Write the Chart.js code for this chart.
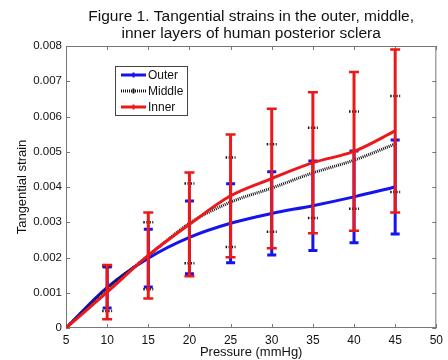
<!DOCTYPE html>
<html>
<head>
<meta charset="utf-8">
<script src="https://cdn.jsdelivr.net/npm/chart.js@4.4.1/dist/chart.umd.min.js"></script>
<style>
  html, body { margin: 0; padding: 0; background: #fff; }
  #wrap { width: 448px; height: 360px; }
</style>
</head>
<body>
<div id="wrap"><canvas id="chart"></canvas></div>
<script>
// pressure steps (mmHg)
const pressure = [5, 10, 15, 20, 25, 30, 35, 40, 45];

// mean tangential strain and +/- error per layer
const outerMean  = [0, 0.00115, 0.00198, 0.00257, 0.00297, 0.00325, 0.00347, 0.00372, 0.00400];
const outerErr   = [0, 0.00058, 0.00082, 0.00103, 0.00112, 0.00118, 0.00127, 0.00130, 0.00133];
const middleMean = [0, 0.00112, 0.00205, 0.00297, 0.00357, 0.00397, 0.00440, 0.00476, 0.00522];
const middleErr  = [0, 0.00064, 0.00095, 0.00113, 0.00127, 0.00124, 0.00128, 0.00138, 0.00136];
const innerMean  = [0, 0.00102, 0.00206, 0.00294, 0.00375, 0.00424, 0.00469, 0.00501, 0.00559];
const innerErr   = [0, 0.00077, 0.00122, 0.00147, 0.00174, 0.00198, 0.00200, 0.00225, 0.00231];

const xTicks = [5, 10, 15, 20, 25, 30, 35, 40, 45, 50];
const yTicks = [0, 0.001, 0.002, 0.003, 0.004, 0.005, 0.006, 0.007, 0.008];

const titleLines = ['Figure 1. Tangential strains in the outer, middle,', 'inner layers of human posterior sclera'];
const seriesNames = ['Outer', 'Middle', 'Inner'];

const FONT = '"Liberation Sans", Arial, sans-serif';
const BLUE = 'rgb(20,20,235)';
const RED = 'rgb(235,25,25)';
const BLACK = 'rgb(20,20,20)';

function pts(means) {
  return pressure.map((p, i) => ({ x: p, y: means[i] }));
}

// vertical error bars with caps, drawn right after each dataset's line
const errorBars = {
  id: 'errorBars',
  afterDatasetDraw(chart, args) {
    const ds = chart.data.datasets[args.index];
    const errs = ds.errors;
    if (!errs) return;
    const x = chart.scales.x, y = chart.scales.y;
    const ctx = chart.ctx;
    ctx.save();
    ctx.strokeStyle = ds.borderColor;
    ctx.setLineDash(ds.barDash || []);
    ds.data.forEach((pt, i) => {
      const e = errs[i];
      if (!e) return;
      const px = x.getPixelForValue(pt.x);
      const top = y.getPixelForValue(pt.y + e);
      const bot = y.getPixelForValue(pt.y - e);
      ctx.lineWidth = ds.barWidth;
      ctx.beginPath();
      ctx.moveTo(px, top);
      ctx.lineTo(px, bot);
      ctx.stroke();
      ctx.lineWidth = ds.capWidth;
      ctx.beginPath();
      ctx.moveTo(px - ds.capHalf, top);
      ctx.lineTo(px + ds.capHalf, top);
      ctx.moveTo(px - ds.capHalf, bot);
      ctx.lineTo(px + ds.capHalf, bot);
      ctx.stroke();
    });
    ctx.restore();
  }
};

// plot box with inward ticks on all four sides, title and legend
const frame = {
  id: 'frame',
  beforeDatasetsDraw(chart) {
    const { ctx, chartArea: a } = chart;
    const x = chart.scales.x, y = chart.scales.y;
    ctx.save();
    ctx.strokeStyle = '#777';
    ctx.lineWidth = 1;
    ctx.strokeRect(a.left + 0.5, a.top + 0.5, a.right - a.left - 1, a.bottom - a.top - 1);
    ctx.beginPath();
    xTicks.forEach(v => {
      const px = Math.round(x.getPixelForValue(v)) + 0.5;
      ctx.moveTo(px, a.bottom); ctx.lineTo(px, a.bottom - 4);
      ctx.moveTo(px, a.top); ctx.lineTo(px, a.top + 4);
    });
    yTicks.forEach(v => {
      const py = Math.round(y.getPixelForValue(v)) + 0.5;
      ctx.moveTo(a.left, py); ctx.lineTo(a.left + 4, py);
      ctx.moveTo(a.right, py); ctx.lineTo(a.right - 4, py);
    });
    ctx.stroke();
    ctx.restore();
  },
  afterDraw(chart) {
    const { ctx, chartArea: a } = chart;
    ctx.save();
    ctx.fillStyle = '#111';
    ctx.font = '15.5px ' + FONT;
    ctx.textAlign = 'center';
    ctx.textBaseline = 'alphabetic';
    const cx = (a.left + a.right) / 2;
    ctx.fillText(titleLines[0], cx, 21);
    ctx.fillText(titleLines[1], cx, 38);

    // legend
    const lx = 115.5, ly = 66.5, lw = 72, lh = 49;
    ctx.fillStyle = '#fff';
    ctx.fillRect(lx, ly, lw, lh);
    ctx.strokeStyle = '#444';
    ctx.lineWidth = 1;
    ctx.strokeRect(lx, ly, lw, lh);
    const rows = [75, 91, 107];
    const sets = [chart.data.datasets[2], chart.data.datasets[1], chart.data.datasets[0]];
    ctx.font = '12px ' + FONT;
    ctx.textAlign = 'left';
    ctx.textBaseline = 'middle';
    rows.forEach((ry, i) => {
      const ds = sets[i];
      ctx.strokeStyle = ds.borderColor;
      ctx.lineWidth = ds.borderWidth;
      ctx.setLineDash(ds.borderDash || []);
      ctx.beginPath();
      ctx.moveTo(121, ry); ctx.lineTo(146, ry);
      ctx.stroke();
      ctx.setLineDash([]);
      // small error-bar marker in the middle of the sample
      ctx.lineWidth = 2;
      ctx.beginPath();
      ctx.moveTo(133.5, ry - 2.5); ctx.lineTo(133.5, ry + 2.5);
      ctx.stroke();
      ctx.fillStyle = '#111';
      ctx.fillText(seriesNames[i], 148, ry + 1);
    });
    ctx.restore();
  }
};

const common = {
  fill: false,
  pointRadius: 0,
  pointHoverRadius: 0,
  cubicInterpolationMode: 'monotone',
  tension: 0.4
};

new Chart(document.getElementById('chart'), {
  type: 'line',
  data: {
    datasets: [
      Object.assign({}, common, {
        label: seriesNames[2], data: pts(innerMean), errors: innerErr,
        borderColor: RED, borderWidth: 3, order: 1,
        barWidth: 3, capWidth: 2.5, capHalf: 5
      }),
      Object.assign({}, common, {
        label: seriesNames[1], data: pts(middleMean), errors: middleErr,
        borderColor: BLACK, borderWidth: 3, borderDash: [1, 1], order: 2,
        barWidth: 2, capWidth: 2.5, capHalf: 5, barDash: [1.5, 1.5]
      }),
      Object.assign({}, common, {
        label: seriesNames[0], data: pts(outerMean), errors: outerErr,
        borderColor: BLUE, borderWidth: 3, order: 3,
        barWidth: 3, capWidth: 3, capHalf: 4.5
      })
    ]
  },
  options: {
    responsive: true,
    maintainAspectRatio: false,
    animation: false,
    layout: { padding: { top: 46, right: 6, left: 0, bottom: 0 } },
    plugins: {
      legend: { display: false },
      title: { display: false },
      tooltip: { enabled: false }
    },
    scales: {
      x: {
        type: 'linear',
        min: 5, max: 50,
        afterBuildTicks(s) { s.ticks = xTicks.map(v => ({ value: v })); },
        afterFit(s) { s.height = 32; },
        grid: { display: false, drawTicks: false },
        border: { display: false },
        ticks: { color: '#111', font: { family: FONT, size: 12 }, padding: 5, maxRotation: 0 },
        title: { display: true, text: 'Pressure (mmHg)', color: '#111', font: { family: FONT, size: 13 }, padding: { top: 0, bottom: 0 } }
      },
      y: {
        type: 'linear',
        min: 0, max: 0.008,
        afterBuildTicks(s) { s.ticks = yTicks.map(v => ({ value: v })); },
        afterFit(s) { s.width = 66; },
        grid: { display: false, drawTicks: false },
        border: { display: false },
        ticks: {
          color: '#111', font: { family: FONT, size: 11.5 }, padding: 4,
          callback: v => v === 0 ? '0' : v.toFixed(3)
        },
        title: { display: true, text: 'Tangential strain', color: '#111', font: { family: FONT, size: 13 }, padding: { top: 15, bottom: 0 } }
      }
    }
  },
  plugins: [errorBars, frame]
});
</script>
</body>
</html>
